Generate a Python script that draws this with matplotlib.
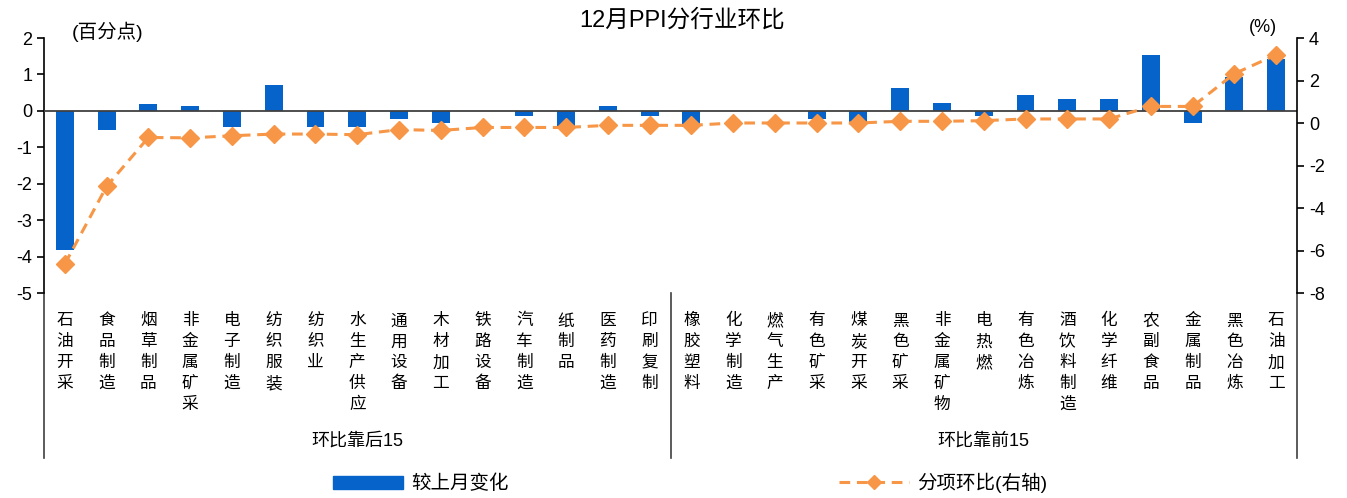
import matplotlib
matplotlib.use("Agg")
import matplotlib.pyplot as plt
from matplotlib.lines import Line2D
from matplotlib.patches import Patch

plt.rcParams['font.family'] = ['Liberation Sans', 'Noto Sans CJK SC', 'DejaVu Sans']
plt.rcParams['axes.unicode_minus'] = False

# ---- data ----
categories = ['石油开采', '食品制造', '烟草制品', '非金属矿采', '电子制造', '纺织服装', '纺织业',
              '水生产供应', '通用设备', '木材加工', '铁路设备', '汽车制造', '纸制品', '医药制造',
              '印刷复制', '橡胶塑料', '化学制造', '燃气生产', '有色矿采', '煤炭开采', '黑色矿采',
              '非金属矿物', '电热燃', '有色冶炼', '酒饮料制造', '化学纤维', '农副食品', '金属制品',
              '黑色冶炼', '石油加工']
change_pp = [-3.82, -0.52, 0.20, 0.12, -0.45, 0.72, -0.45, -0.45, -0.22, -0.34,
             0.00, -0.14, -0.45, 0.12, -0.14, -0.43, 0.00, 0.00, -0.21, -0.33,
             0.63, 0.21, -0.14, 0.44, 0.32, 0.32, 1.54, -0.34, 0.92, 1.42]
mom_pct = [-6.63, -2.98, -0.68, -0.70, -0.60, -0.52, -0.52, -0.55, -0.31, -0.35,
           -0.21, -0.21, -0.21, -0.11, -0.11, -0.11, 0.00, 0.00, 0.00, 0.00,
           0.08, 0.08, 0.11, 0.19, 0.19, 0.19, 0.78, 0.78, 2.32, 3.21]
groups = ['环比靠后15', '环比靠前15']

BLUE = '#0563C9'
ORANGE = '#F79646'

fig = plt.figure(figsize=(13.47, 4.98), dpi=100)
ax = fig.add_axes([44 / 1347, 1 - 293 / 498, 1253 / 1347, 255 / 498])
ax2 = ax.twinx()

x = list(range(len(categories)))
ax.bar(x, change_pp, width=0.43, color=BLUE, zorder=2)
ax.axhline(0, color='#404040', lw=1.3, zorder=3)
ax2.plot(x, mom_pct, color=ORANGE, lw=2.2, ls=(0, (3.5, 2.2)), marker='D', ms=9,
         markeredgecolor=ORANGE, zorder=4)

ax.set_xlim(-0.5, len(categories) - 0.5)
ax.set_ylim(-5, 2)
ax.set_yticks(range(-5, 3))
ax2.set_ylim(-8, 4)
ax2.set_yticks(range(-8, 5, 2))

for a in (ax, ax2):
    a.spines['top'].set_visible(False)
    a.spines['bottom'].set_visible(False)
    a.tick_params(axis='y', labelsize=13, length=5, width=1.2, direction='out')
ax.spines['left'].set_linewidth(1.2)
ax2.spines['right'].set_linewidth(1.2)
ax2.spines['left'].set_visible(False)
ax.spines['right'].set_visible(False)

ax.set_xticks(x)
ax.set_xticklabels(['\n'.join(c) for c in categories], fontsize=12,
                   family=['Noto Sans CJK SC'], va='top', linespacing=1.3)
ax.tick_params(axis='x', length=0, pad=14)

# group separators and labels below the axis
sep_kw = dict(transform=ax.get_xaxis_transform(), color='#404040', lw=1.2, clip_on=False)
for xs in (-0.5, 14.5, 29.5):
    ax.add_line(Line2D([xs, xs], [0, -165 / 255], **sep_kw))
ax.text(7, -148 / 255, groups[0], transform=ax.get_xaxis_transform(), ha='center',
        va='center', fontsize=13)
ax.text(22, -148 / 255, groups[1], transform=ax.get_xaxis_transform(), ha='center',
        va='center', fontsize=13)

fig.text(682 / 1347, 1 - 20 / 498, '12月PPI分行业环比', ha='center', va='center', fontsize=17)
fig.text(108 / 1347, 1 - 32 / 498, '(百分点)', ha='center', va='center', fontsize=14)
fig.text(1263 / 1347, 1 - 28 / 498, '(%)', ha='center', va='center', fontsize=13)

handles = [Patch(color=BLUE),
           Line2D([], [], color=ORANGE, lw=2.2, ls=(0, (3.5, 2.2)), marker='D', ms=7)]
fig.legend(handles, ['较上月变化', '分项环比(右轴)'], loc='center', ncol=2,
           bbox_to_anchor=(690 / 1347, 1 - 483 / 498), frameon=False, fontsize=14,
           handlelength=3.6, handleheight=0.7, columnspacing=17, handletextpad=0.4)

fig.savefig('out.png', dpi=100)
